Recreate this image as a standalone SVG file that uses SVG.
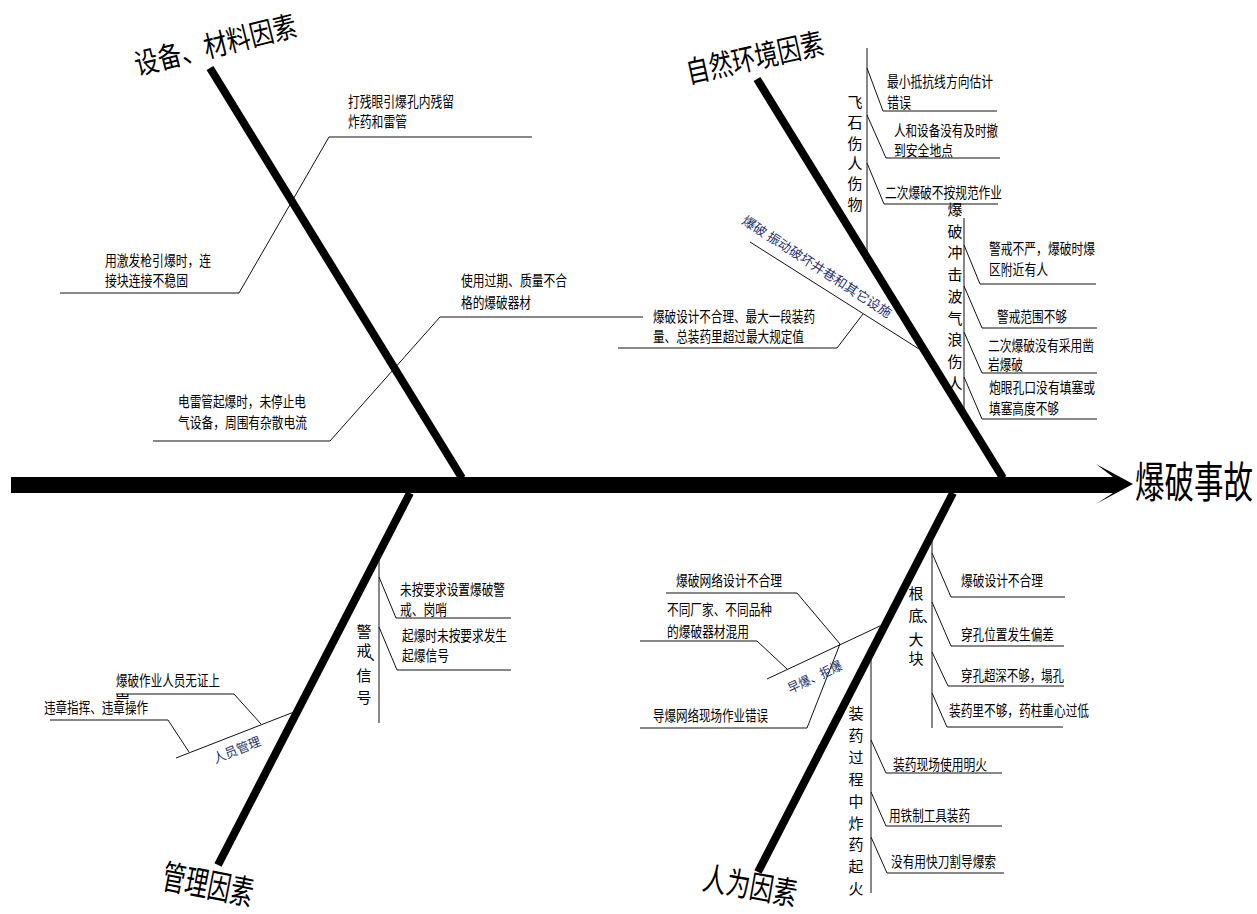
<svg xmlns="http://www.w3.org/2000/svg" width="1257" height="914" viewBox="0 0 1257 914">
<style>
.t{font-family:"Noto Sans CJK SC","Noto Sans",sans-serif;font-size:15px;fill:#000}
.v{text-anchor:middle}
.h{font-family:"Noto Sans CJK SC","Noto Sans",sans-serif;fill:#000;text-anchor:middle}
.b{font-family:"Noto Sans CJK SC","Noto Sans",sans-serif;font-size:13px;fill:#27336e}
.ln{stroke:#111;stroke-width:1;fill:none}
.bone{stroke:#000;stroke-width:8;fill:none}
</style>
<defs>
<clipPath id="gangClip"><rect x="100" y="680" width="40" height="19"/></clipPath>
</defs>
<rect width="1257" height="914" fill="#fff"/>

<g id="connectors">
<rect x="11" y="477" width="1102" height="16" fill="#000"/>
<polygon points="1096,464 1133,484 1096,504 1113,493 1113,477" fill="#000"/>
<line class="bone" x1="210" y1="68" x2="462" y2="478"/>
<line class="bone" x1="757" y1="79" x2="1003" y2="478"/>
<line class="bone" x1="410" y1="493" x2="218" y2="865"/>
<line class="bone" x1="953" y1="493" x2="758" y2="872"/>
<polyline class="ln" points="60,293 239,293 329,137 532,137"/>
<polyline class="ln" points="153,441 330,441 440,317 643,317"/>
<line class="ln" x1="750" y1="242" x2="919" y2="349"/>
<polyline class="ln" points="618,348 837,348 863,314"/>
<line class="ln" x1="867" y1="48" x2="867" y2="257"/>
<polyline class="ln" points="867,68 883,111 997,111"/>
<polyline class="ln" points="867,115 886,158 1000,158"/>
<polyline class="ln" points="867,163 884,204 998,204"/>
<line class="ln" x1="964" y1="218" x2="964" y2="417"/>
<polyline class="ln" points="964,245 980,284 1096,284"/>
<polyline class="ln" points="964,286 982,328 1097,328"/>
<polyline class="ln" points="964,332 982,373 1097,373"/>
<polyline class="ln" points="964,377 982,419 1097,419"/>
<line class="ln" x1="379" y1="556" x2="379" y2="723"/>
<polyline class="ln" points="379,577 396,618 511,618"/>
<polyline class="ln" points="379,627 397,670 511,670"/>
<line class="ln" x1="176" y1="758" x2="294" y2="712"/>
<polyline class="ln" points="116,694 234,694 261,724"/>
<polyline class="ln" points="50,720 168,720 189,752"/>
<line class="ln" x1="932" y1="538" x2="932" y2="728"/>
<polyline class="ln" points="932,553 951,597 1065,597"/>
<polyline class="ln" points="932,602 951,646 1064,646"/>
<polyline class="ln" points="932,652 948,686 1064,686"/>
<polyline class="ln" points="932,693 947,727 1063,727"/>
<line class="ln" x1="871" y1="657" x2="871" y2="893"/>
<polyline class="ln" points="871,740 886,773 1002,773"/>
<polyline class="ln" points="871,792 886,826 1002,826"/>
<polyline class="ln" points="871,837 887,873 1004,873"/>
<line class="ln" x1="767" y1="679" x2="880" y2="626"/>
<polyline class="ln" points="666,593 797,593 840,644"/>
<polyline class="ln" points="640,641 757,641 787,669"/>
<polyline class="ln" points="640,728 807,728 840,644"/>
</g>

<g id="head">
<text class="t" transform="translate(1135,498) scale(0.686,1)" style="font-size:43px">爆破事故</text>
</g>

<g id="cat-equipment">
<text class="h" transform="translate(215.5,45.5) rotate(-14) scale(0.818,1)" y="10" style="font-size:29px">设备、材料因素</text>
</g>
<g id="cat-nature">
<text class="h" transform="translate(755,58.5) rotate(-12.5) scale(0.778,1)" y="10" style="font-size:30px">自然环境因素</text>
</g>
<g id="cat-management">
<text class="h" transform="translate(208,885) rotate(11) scale(0.676,1)" y="12" style="font-size:34px">管理因素</text>
</g>
<g id="cat-human">
<text class="h" transform="translate(750,886.5) rotate(10) scale(0.742,1)" y="11" style="font-size:32px">人为因素</text>
</g>

<g id="n-residual">
<text class="t" x="348" y="107" textLength="106" lengthAdjust="spacingAndGlyphs">打残眼引爆孔内残留</text>
<text class="t" x="348" y="127" textLength="59" lengthAdjust="spacingAndGlyphs">炸药和雷管</text>
</g>
<g id="n-exciter">
<text class="t" x="105" y="266" textLength="106" lengthAdjust="spacingAndGlyphs">用激发枪引爆时，连</text>
<text class="t" x="105" y="286" textLength="83" lengthAdjust="spacingAndGlyphs">接块连接不稳固</text>
</g>
<g id="n-expired">
<text class="t" x="461" y="286" textLength="106" lengthAdjust="spacingAndGlyphs">使用过期、质量不合</text>
<text class="t" x="461" y="308" textLength="70" lengthAdjust="spacingAndGlyphs">格的爆破器材</text>
</g>
<g id="n-stray">
<text class="t" x="178" y="407" textLength="128" lengthAdjust="spacingAndGlyphs">电雷管起爆时，未停止电</text>
<text class="t" x="178" y="428" textLength="129" lengthAdjust="spacingAndGlyphs">气设备，周围有杂散电流</text>
</g>

<g id="n-vibration">
<text class="b" transform="translate(741,223) rotate(33)" textLength="175" lengthAdjust="spacingAndGlyphs">爆破 振动破坏井巷和其它设施</text>
</g>
<g id="n-design">
<text class="t" x="653" y="322" textLength="162" lengthAdjust="spacingAndGlyphs">爆破设计不合理、最大一段装药</text>
<text class="t" x="653" y="342" textLength="151" lengthAdjust="spacingAndGlyphs">量、总装药里超过最大规定值</text>
</g>
<g id="n-flyrock">
<text class="t v" x="855" y="108">飞</text>
<text class="t v" x="855" y="128.3">石</text>
<text class="t v" x="855" y="148.6">伤</text>
<text class="t v" x="855" y="168.9">人</text>
<text class="t v" x="855" y="189.2">伤</text>
<text class="t v" x="855" y="209.5">物</text>
</g>
<g id="n-fr1">
<text class="t" x="887" y="87" textLength="106" lengthAdjust="spacingAndGlyphs">最小抵抗线方向估计</text>
<text class="t" x="887" y="108" textLength="24" lengthAdjust="spacingAndGlyphs">错误</text>
</g>
<g id="n-fr2">
<text class="t" x="894" y="136" textLength="104" lengthAdjust="spacingAndGlyphs">人和设备没有及时撤</text>
<text class="t" x="894" y="155.5" textLength="59" lengthAdjust="spacingAndGlyphs">到安全地点</text>
</g>
<g id="n-fr3">
<text class="t" x="885" y="198" textLength="117" lengthAdjust="spacingAndGlyphs">二次爆破不按规范作业</text>
</g>
<g id="n-shock">
<text class="t v" x="955" y="215">爆</text>
<text class="t v" x="955" y="236.7">破</text>
<text class="t v" x="955" y="258.4">冲</text>
<text class="t v" x="955" y="280.1">击</text>
<text class="t v" x="955" y="301.8">波</text>
<text class="t v" x="955" y="323.5">气</text>
<text class="t v" x="955" y="345.2">浪</text>
<text class="t v" x="955" y="366.9">伤</text>
<text class="t v" x="955" y="388.6">人</text>
</g>
<g id="n-sh1">
<text class="t" x="989" y="254" textLength="106" lengthAdjust="spacingAndGlyphs">警戒不严，爆破时爆</text>
<text class="t" x="989" y="275" textLength="59" lengthAdjust="spacingAndGlyphs">区附近有人</text>
</g>
<g id="n-sh2">
<text class="t" x="997" y="321.5" textLength="70" lengthAdjust="spacingAndGlyphs">警戒范围不够</text>
</g>
<g id="n-sh3">
<text class="t" x="988" y="350.5" textLength="106" lengthAdjust="spacingAndGlyphs">二次爆破没有采用凿</text>
<text class="t" x="988" y="370" textLength="35" lengthAdjust="spacingAndGlyphs">岩爆破</text>
</g>
<g id="n-sh4">
<text class="t" x="989" y="393" textLength="106" lengthAdjust="spacingAndGlyphs">炮眼孔口没有填塞或</text>
<text class="t" x="989" y="413.5" textLength="70" lengthAdjust="spacingAndGlyphs">填塞高度不够</text>
</g>

<g id="n-warning">
<text class="t v" x="364" y="637">警</text>
<text class="t v" x="364" y="655.5">戒</text>
<text class="t" x="369" y="660">、</text>
<text class="t v" x="364" y="681">信</text>
<text class="t v" x="364" y="703">号</text>
</g>
<g id="n-w1">
<text class="t" x="400" y="595" textLength="105" lengthAdjust="spacingAndGlyphs">未按要求设置爆破警</text>
<text class="t" x="400" y="615" textLength="47" lengthAdjust="spacingAndGlyphs">戒、岗哨</text>
</g>
<g id="n-w2">
<text class="t" x="402" y="641" textLength="105" lengthAdjust="spacingAndGlyphs">起爆时未按要求发生</text>
<text class="t" x="402" y="661" textLength="47" lengthAdjust="spacingAndGlyphs">起爆信号</text>
</g>
<g id="n-personnel">
<text class="b" transform="translate(237,750) rotate(-22)" y="4.5" text-anchor="middle" textLength="50" lengthAdjust="spacingAndGlyphs">人员管理</text>
</g>
<g id="n-p1">
<text class="t" x="116" y="685.5" textLength="104" lengthAdjust="spacingAndGlyphs">爆破作业人员无证上</text>
<text class="t" x="115" y="706" clip-path="url(#gangClip)">岗</text>
</g>
<g id="n-p2">
<text class="t" x="44" y="713" textLength="104" lengthAdjust="spacingAndGlyphs">违章指挥、违章操作</text>
</g>

<g id="n-root">
<text class="t v" x="916" y="599">根</text>
<text class="t v" x="916" y="620.5">底</text>
<text class="t" x="922" y="622">、</text>
<text class="t v" x="916" y="645">大</text>
<text class="t v" x="916" y="664">块</text>
</g>
<g id="n-r1"><text class="t" x="961" y="586" textLength="82" lengthAdjust="spacingAndGlyphs">爆破设计不合理</text></g>
<g id="n-r2"><text class="t" x="961" y="640" textLength="93" lengthAdjust="spacingAndGlyphs">穿孔位置发生偏差</text></g>
<g id="n-r3"><text class="t" x="961" y="681" textLength="103" lengthAdjust="spacingAndGlyphs">穿孔超深不够，塌孔</text></g>
<g id="n-r4"><text class="t" x="949" y="716" textLength="140" lengthAdjust="spacingAndGlyphs">装药里不够，药柱重心过低</text></g>

<g id="n-fire">
<text class="t v" x="856" y="719">装</text>
<text class="t v" x="856" y="740.9">药</text>
<text class="t v" x="856" y="762.8">过</text>
<text class="t v" x="856" y="784.7">程</text>
<text class="t v" x="856" y="806.6">中</text>
<text class="t v" x="856" y="828.5">炸</text>
<text class="t v" x="856" y="850.4">药</text>
<text class="t v" x="856" y="872.3">起</text>
<text class="t v" x="856" y="894.2">火</text>
</g>
<g id="n-f1"><text class="t" x="893" y="769.5" textLength="94" lengthAdjust="spacingAndGlyphs">装药现场使用明火</text></g>
<g id="n-f2"><text class="t" x="889" y="820.5" textLength="81" lengthAdjust="spacingAndGlyphs">用铁制工具装药</text></g>
<g id="n-f3"><text class="t" x="891" y="866.5" textLength="105" lengthAdjust="spacingAndGlyphs">没有用快刀割导爆索</text></g>

<g id="n-misfire">
<text class="b" transform="translate(815,677) rotate(-25)" y="4.5" text-anchor="middle" textLength="58" lengthAdjust="spacingAndGlyphs">早爆、拒爆</text>
</g>
<g id="n-m1"><text class="t" x="676" y="585.5" textLength="106" lengthAdjust="spacingAndGlyphs">爆破网络设计不合理</text></g>
<g id="n-m2">
<text class="t" x="667" y="614.5" textLength="105" lengthAdjust="spacingAndGlyphs">不同厂家、不同品种</text>
<text class="t" x="667" y="637" textLength="82" lengthAdjust="spacingAndGlyphs">的爆破器材混用</text>
</g>
<g id="n-m3"><text class="t" x="653" y="720.5" textLength="115" lengthAdjust="spacingAndGlyphs">导爆网络现场作业错误</text></g>
</svg>
